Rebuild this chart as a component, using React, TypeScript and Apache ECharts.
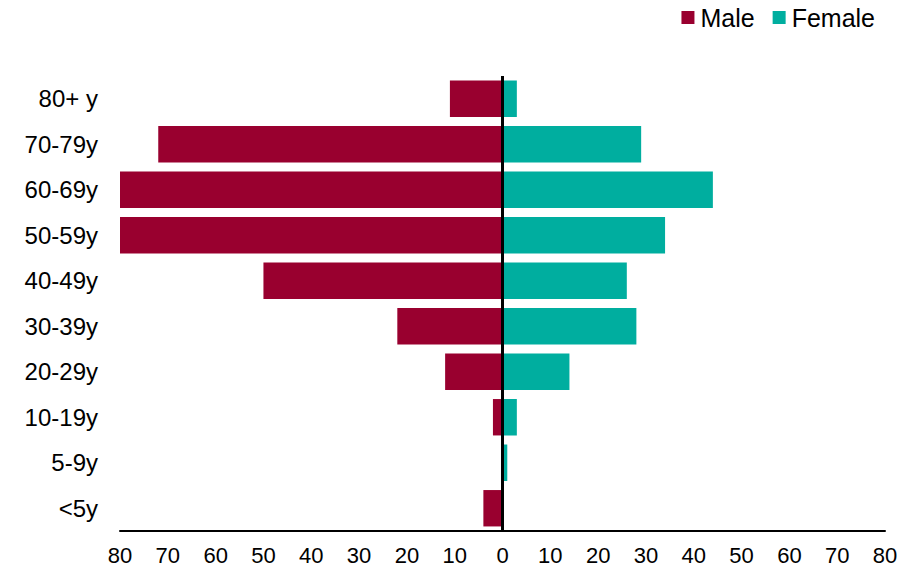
import React, { useEffect, useRef } from "react";
import * as echarts from "echarts";

const categories = ["<5y", "5-9y", "10-19y", "20-29y", "30-39y", "40-49y", "50-59y", "60-69y", "70-79y", "80+ y"];
const maleValues = [4, 0, 2, 12, 22, 50, 80, 80, 72, 11];
const femaleValues = [0, 1, 3, 14, 28, 26, 34, 44, 29, 3];

const FONT = "'Liberation Sans', Arial, sans-serif";

export default function App() {
  const ref = useRef<HTMLDivElement>(null);
  useEffect(() => {
    if (!ref.current) return;
    const chart = echarts.init(ref.current, undefined, { renderer: "svg" });
    chart.setOption({
      animation: false,
      textStyle: { fontFamily: FONT, color: "#000" },
      legend: {
        top: 0,
        right: 25,
        itemWidth: 13,
        itemHeight: 13,
        itemGap: 18,
        icon: "rect",
        textStyle: { fontSize: 25, color: "#000", fontFamily: FONT, padding: [0, 0, 0, 1] },
        data: ["Male", "Female"],
      },
      grid: { left: 120, right: 20, top: 76, bottom: 46, containLabel: false },
      xAxis: {
        type: "value",
        min: -80,
        max: 80,
        interval: 10,
        splitLine: { show: false },
        axisTick: { show: false },
        axisLine: { show: true, onZero: false, lineStyle: { color: "#000", width: 2 } },
        axisLabel: {
          fontSize: 22,
          color: "#000",
          margin: 13,
          fontFamily: FONT,
          formatter: (v: number) => String(Math.abs(v)),
        },
      },
      yAxis: {
        type: "category",
        data: categories,
        axisTick: { show: false },
        axisLine: { show: false },
        axisLabel: { fontSize: 24, color: "#000", margin: 22, fontFamily: FONT },
      },
      series: [
        {
          name: "Male",
          type: "bar",
          stack: "total",
          barCategoryGap: "20%",
          itemStyle: { color: "#99002F" },
          data: maleValues.map((v) => -v),
          markLine: {
            silent: true,
            symbol: "none",
            label: { show: false },
            lineStyle: { color: "#000", width: 3, type: "solid" },
            data: [{ xAxis: 0 }],
          },
          z: 2,
        },
        {
          name: "Female",
          type: "bar",
          stack: "total",
          barCategoryGap: "20%",
          itemStyle: { color: "#00AE9F" },
          data: femaleValues,
          z: 2,
        },
      ],
    });
    return () => chart.dispose();
  }, []);
  return <div ref={ref} style={{ position: "absolute", left: 0, top: 0, width: 905, height: 577 }} />;
}
